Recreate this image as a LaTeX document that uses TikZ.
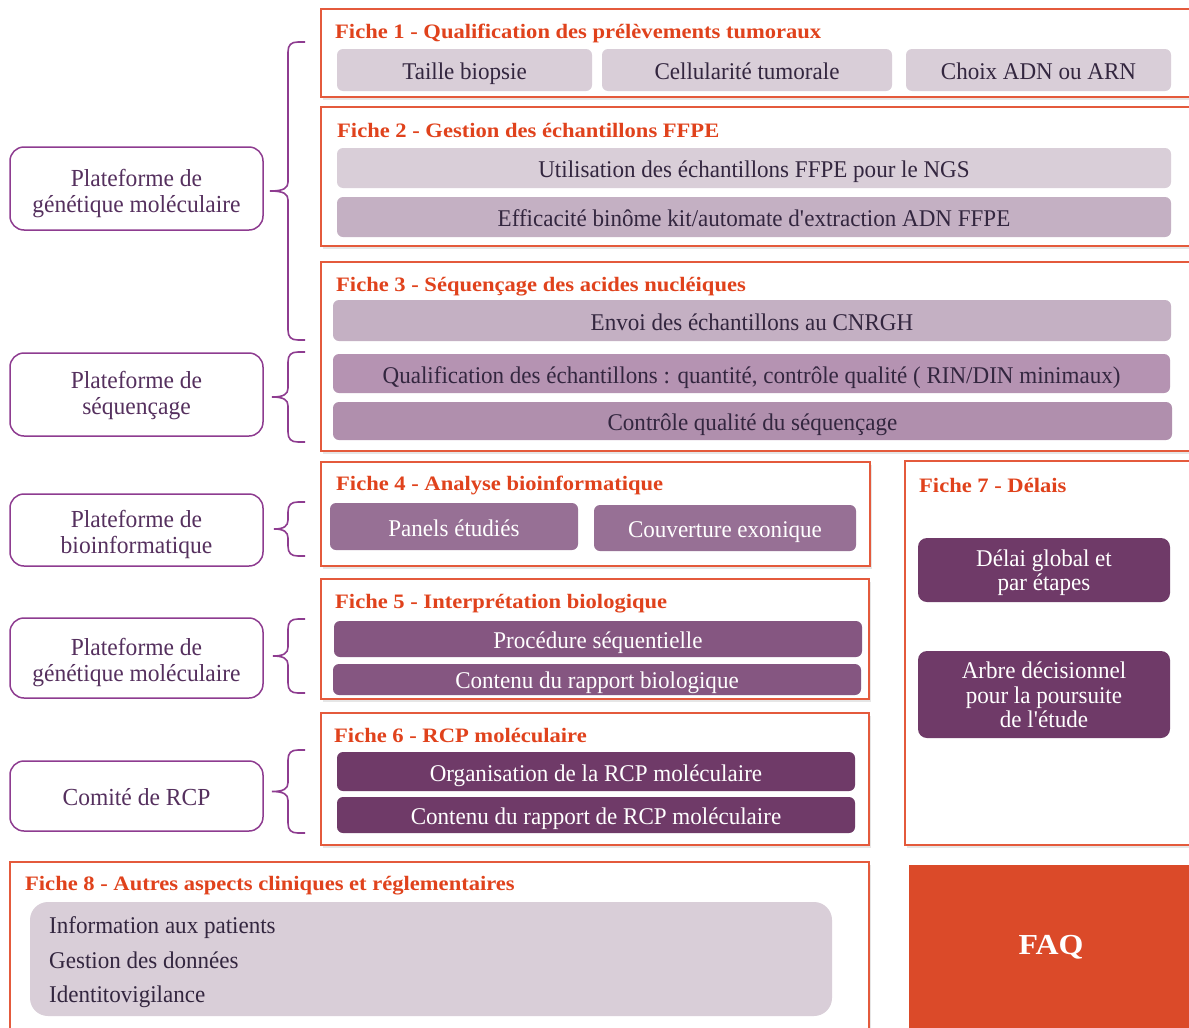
\documentclass[tikz,border=0pt]{standalone}
\usepackage{fontspec}
\setmainfont[FakeStretch=0.96]{Liberation Serif}
\newfontfamily\titlefam[FakeStretch=1.1]{Liberation Serif}
\usetikzlibrary{shadows}

\definecolor{framecol}{HTML}{E45A3C}
\definecolor{titlecol}{HTML}{E0421C}
\definecolor{plum}{HTML}{8E3C90}
\definecolor{plattext}{HTML}{55305E}
\definecolor{itemtext}{HTML}{33263F}
\definecolor{fa}{HTML}{D9CED8}
\definecolor{fb}{HTML}{C4B0C3}
\definecolor{fc}{HTML}{B593B2}
\definecolor{fd}{HTML}{977095}
\definecolor{fe}{HTML}{855681}
\definecolor{ff}{HTML}{6F3A68}
\definecolor{faqcol}{HTML}{DB4A29}

\newcommand\itemfont{\fontsize{24}{24.5}\selectfont}
\newcommand\ftitlefont{\titlefam\fontsize{20.5}{24}\selectfont\bfseries}
\newcommand\platfont{\fontsize{24.5}{25.5}\selectfont}

% box from corner (x1,y1) to (x2,y2), in pixel-like units
\newcommand\areabox[7]{%
  \node[#2, minimum width={#5-#3}, minimum height={#6-#4}] (#1)
    at ({(#3+#5)/2},{(#4+#6)/2}) {#7};}

% curly brace: name, top y, bottom y, tip x (ends at x=305, spine at x=288)
\newcommand\curlybrace[4]{%
  \pgfmathsetmacro\bmid{(#2+#3)/2}%
  \coordinate (#1top) at (305,#2);
  \coordinate (#1tip) at (#4,\bmid);
  \coordinate (#1bot) at (305,#3);
  \draw[bracepath] (#1top) -- (298,#2) .. controls (291,#2) and (288,#2+3) .. (288,#2+10)
    -- (288,\bmid-9) .. controls (288,\bmid-3) and (284,\bmid) .. (#1tip)
    .. controls (284,\bmid) and (288,\bmid+3) .. (288,\bmid+9)
    -- (288,#3-10) .. controls (288,#3-3) and (291,#3) .. (298,#3) -- (#1bot);}

\tikzset{
  frame/.style={draw=framecol, line width=1.5pt, fill=white, inner sep=0pt,
    drop shadow={opacity=0.2, shadow xshift=1.5pt, shadow yshift=-2.5pt}},
  ftitle/.style={anchor=base west, inner sep=0pt, text=titlecol, font=\ftitlefont},
  item/.style={rounded corners=6pt, inner sep=0pt, font=\itemfont,
    text=itemtext, align=center, text height=19pt, text depth=0pt},
  darkitem/.style={item, text=white},
  darkbox/.style={fill=ff, rounded corners=9pt, inner sep=0pt},
  darkline/.style={anchor=base, inner sep=0pt, font=\itemfont, text=white},
  platform/.style={draw=plum, line width=1.5pt, rounded corners=14pt,
    fill=white, inner sep=0pt},
  platline/.style={anchor=base, inner sep=0pt, font=\platfont, text=plattext},
  bracepath/.style={draw=plum, line width=1.6pt},
  listtext/.style={anchor=base west, inner sep=0pt, font=\itemfont, text=itemtext},
}

\begin{document}
\begin{tikzpicture}[x=1pt, y=-1pt]
\useasboundingbox (0,0) rectangle (1189,1028);

% ---- Fiche frames ----
\areabox{f1}{frame}{321}{9}{1195}{97}{}
\areabox{f2}{frame}{321}{107}{1195}{246}{}
\areabox{f3}{frame}{321}{262}{1195}{451}{}
\areabox{f4}{frame}{321}{462}{870}{566}{}
\areabox{f5}{frame}{321}{579}{869}{699}{}
\areabox{f6}{frame}{321}{713}{869}{845}{}
\areabox{f7}{frame}{905}{461}{1195}{845}{}
\areabox{f8}{frame}{10}{862}{869}{1040}{}

% ---- Fiche titles ----
\node[ftitle] (t1) at (335,38) {Fiche 1 - Qualification des prélèvements tumoraux};
\node[ftitle] (t2) at (337,137) {Fiche 2 - Gestion des échantillons FFPE};
\node[ftitle] (t3) at (336,291) {Fiche 3 - Séquençage des acides nucléiques};
\node[ftitle] (t4) at (336,490) {Fiche 4 - Analyse bioinformatique};
\node[ftitle] (t5) at (335,608) {Fiche 5 - Interprétation biologique};
\node[ftitle] (t6) at (334,742) {Fiche 6 - RCP moléculaire};
\node[ftitle] (t7) at (919,492) {Fiche 7 - Délais};
\node[ftitle] (t8) at (25,890) {Fiche 8 - Autres aspects cliniques et réglementaires};

% ---- Fiche 1 ----
\areabox{i11}{item, fill=fa}{337}{49}{592}{91}{Taille biopsie}
\areabox{i12}{item, fill=fa}{602}{49}{892}{91}{Cellularité tumorale}
\areabox{i13}{item, fill=fa}{906}{49}{1171}{91}{Choix ADN ou ARN}

% ---- Fiche 2 ----
\areabox{i21}{item, fill=fa}{337}{148}{1171}{188}{Utilisation des échantillons FFPE pour le NGS}
\areabox{i22}{item, fill=fb}{337}{197}{1171}{237}{Efficacité binôme kit/automate d\textquotesingle extraction ADN FFPE}

% ---- Fiche 3 ----
\areabox{i31}{item, fill=fb}{333}{300}{1171}{341}{Envoi des échantillons au CNRGH}
\areabox{i32}{item, fill=fc}{333}{354}{1170}{393}{Qualification des échantillons : quantité, contrôle qualité ( RIN/DIN minimaux)}
\areabox{i33}{item, fill=fc!97!black}{333}{402}{1172}{440}{Contrôle qualité du séquençage}

% ---- Fiche 4 ----
\areabox{i41}{darkitem, fill=fd}{330}{503}{578}{550}{Panels étudiés}
\areabox{i42}{darkitem, fill=fd}{594}{505}{856}{551}{Couverture exonique}

% ---- Fiche 5 ----
\areabox{i51}{darkitem, fill=fe}{334}{621}{862}{657}{Procédure séquentielle}
\areabox{i52}{darkitem, fill=fe, text height=17.5pt}{333}{664}{861}{695}{Contenu du rapport biologique}

% ---- Fiche 6 ----
\areabox{i61}{darkitem, fill=ff}{337}{752}{855}{791}{Organisation de la RCP moléculaire}
\areabox{i62}{darkitem, fill=ff}{337}{797}{855}{833}{Contenu du rapport de RCP moléculaire}

% ---- Fiche 7 ----
\areabox{i71}{darkbox}{918}{538}{1170}{602}{}
\node[darkline] (i71a) at (1044,566) {Délai global et};
\node[darkline] (i71b) at (1044,590) {par étapes};
\areabox{i72}{darkbox}{918}{651}{1170}{738}{}
\node[darkline] (i72a) at (1044,678) {Arbre décisionnel};
\node[darkline] (i72b) at (1044,703) {pour la poursuite};
\node[darkline] (i72c) at (1044,727) {de l\textquotesingle étude};

% ---- Fiche 8 ----
\areabox{i8}{item, fill=fa, rounded corners=18pt}{30}{902}{832}{1016}{}
\node[listtext] (l81) at (49,933) {Information aux patients};
\node[listtext] (l82) at (49,968) {Gestion des données};
\node[listtext] (l83) at (49,1002) {Identitovigilance};

% ---- FAQ ----
\areabox{faq}{fill=faqcol, inner sep=0pt}{909}{865}{1195}{1035}{}
\node[text=white, font=\titlefam\fontsize{29}{34}\selectfont\bfseries, inner sep=0pt] (faqlabel) at (1051,947) {FAQ};

% ---- Platforms ----
\areabox{p1}{platform}{10}{147}{263}{230}{}
\node[platline] (p1a) at (136.5,186) {Plateforme de};
\node[platline] (p1b) at (136.5,212) {génétique moléculaire};
\areabox{p2}{platform}{10}{353}{263}{436}{}
\node[platline] (p2a) at (136.5,388) {Plateforme de};
\node[platline] (p2b) at (136.5,414) {séquençage};
\areabox{p3}{platform}{10}{494}{263}{566}{}
\node[platline] (p3a) at (136.5,527) {Plateforme de};
\node[platline] (p3b) at (136.5,553) {bioinformatique};
\areabox{p4}{platform}{10}{618}{263}{698}{}
\node[platline] (p4a) at (136.5,655) {Plateforme de};
\node[platline] (p4b) at (136.5,681) {génétique moléculaire};
\areabox{p5}{platform}{10}{761}{263}{831}{}
\node[platline] (p5a) at (136.5,805) {Comité de RCP};

% ---- Braces linking platforms to their fiches ----
\curlybrace{ba}{42}{340}{270}
\curlybrace{bb}{352}{442}{272}
\curlybrace{bc}{502}{556}{274}
\curlybrace{bd}{619}{693}{273}
\curlybrace{be}{750}{833}{272}
\end{tikzpicture}
\end{document}
